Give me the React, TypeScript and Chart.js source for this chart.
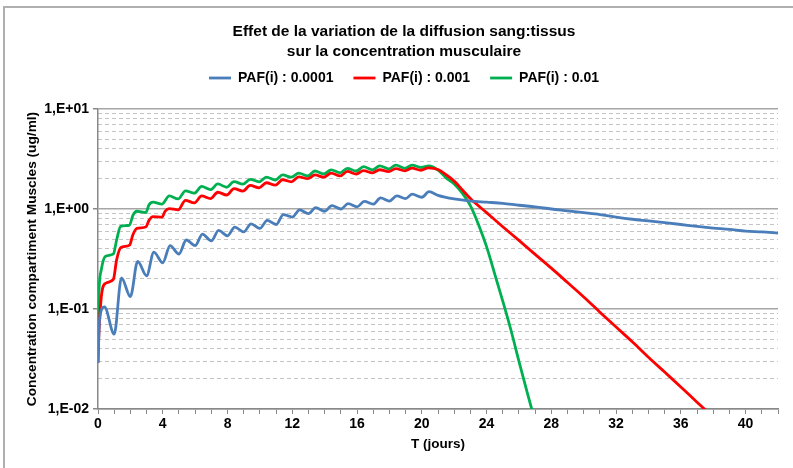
import React, { useEffect, useRef } from "react";
import { Chart, registerables } from "chart.js";

Chart.register(...registerables);

const TITLE_LINES = ["Effet de la variation de la diffusion sang:tissus", "sur la concentration musculaire"];
const SERIES_NAMES = ["PAF(i) : 0.0001", "PAF(i) : 0.001", "PAF(i) : 0.01"];
const SERIES_COLORS = ["#4a7ebb", "#ff0000", "#00b050"];
const X_TITLE = "T (jours)";
const Y_TITLE = "Concentration compartiment Muscles (ug/ml)";
const X_LABELED_TICKS = [0, 4, 8, 12, 16, 20, 24, 28, 32, 36, 40];
const Y_MAJOR_TICKS = [0.01, 0.1, 1, 10];
const Y_MAJOR_LABELS = ["1,E-02", "1,E-01", "1,E+00", "1,E+01"];
const Y_MINOR_MULTIPLIERS = [2, 3, 4, 5, 6, 7, 8, 9];

// PAF(i) : 0.0001 (blue)
const tBlue = [
  0, 0.1, 0.4, 1.0, 1.45, 2.0, 2.45, 3.0, 3.45, 4.0, 4.45, 5.0, 5.45, 6.0, 6.45, 7.0, 7.45,
  8.0, 8.45, 9.0, 9.45, 10.0, 10.45, 11.0, 11.45, 12.0, 12.45, 13.0, 13.45, 14.0, 14.45,
  15.0, 15.45, 16.0, 16.45, 17.0, 17.45, 18.0, 18.45, 19.0, 19.4, 20.0, 20.45,
  21, 22, 23, 24, 25, 26, 27, 28, 29, 30, 31, 32, 33, 34, 35, 36, 37, 38, 39, 40, 41, 42,
];
const cBlue = [
  0.029, 0.08, 0.105, 0.056, 0.205, 0.133, 0.3, 0.215, 0.37, 0.29, 0.43, 0.355, 0.49, 0.43, 0.56, 0.48, 0.61,
  0.54, 0.66, 0.59, 0.71, 0.64, 0.77, 0.7, 0.88, 0.83, 0.98, 0.9, 1.03, 0.95, 1.08,
  1.0, 1.13, 1.05, 1.19, 1.12, 1.29, 1.2, 1.35, 1.27, 1.41, 1.31, 1.49,
  1.37, 1.26, 1.2, 1.17, 1.14, 1.09, 1.05, 1.0, 0.96, 0.92, 0.88, 0.83, 0.79, 0.76, 0.73, 0.7, 0.67, 0.645, 0.625, 0.6, 0.59, 0.575,
];

// PAF(i) : 0.001 (red)
const tRed = [
  0, 0.03, 0.2, 0.45, 0.95, 1.15, 1.4, 1.95, 2.15, 2.4, 2.95, 3.15, 3.4, 3.95, 4.15, 4.4, 4.95,
  5.4, 5.95, 6.4, 6.95, 7.4, 7.95, 8.4, 8.95, 9.4, 9.95, 10.4, 10.95, 11.4, 11.95, 12.4, 12.95,
  13.4, 13.95, 14.4, 14.95, 15.4, 15.95, 16.4, 16.95, 17.4, 17.95, 18.4, 18.95, 19.4, 19.95, 20.4,
  21, 21.5, 22, 22.5, 23, 24, 25, 26, 27, 28, 29, 30, 31, 32, 33, 34, 35, 36, 37, 38,
];
const cRed = [
  0.029, 0.045, 0.13, 0.18, 0.198, 0.31, 0.41, 0.435, 0.55, 0.64, 0.66, 0.77, 0.84, 0.83, 0.95, 1.01, 0.98,
  1.22, 1.15, 1.35, 1.27, 1.47, 1.38, 1.6, 1.51, 1.72, 1.63, 1.83, 1.73, 1.96, 1.87, 2.1, 2.01,
  2.19, 2.08, 2.28, 2.14, 2.38, 2.24, 2.42, 2.3, 2.47, 2.37, 2.53, 2.41, 2.56, 2.44, 2.58,
  2.48, 2.2, 1.9, 1.56, 1.27, 0.92, 0.665, 0.485, 0.352, 0.256, 0.184, 0.132, 0.093, 0.066, 0.047, 0.033, 0.0234, 0.0166, 0.0117, 0.0083,
];

// PAF(i) : 0.01 (green)
const tGreen = [
  0, 0.03, 0.2, 0.45, 0.95, 1.15, 1.4, 1.95, 2.15, 2.4, 2.95, 3.15, 3.4, 3.95, 4.4, 4.95,
  5.4, 5.95, 6.4, 6.95, 7.4, 7.95, 8.4, 8.95, 9.4, 9.95, 10.4, 10.95, 11.4, 11.95, 12.4, 12.95,
  13.4, 13.95, 14.4, 14.95, 15.4, 15.95, 16.4, 16.95, 17.4, 17.95, 18.4, 18.95, 19.4, 19.95, 20.45,
  21, 21.5, 22, 22.5, 23, 23.5, 24, 24.5, 25, 25.5, 26, 26.5, 27,
];
const cGreen = [
  0.04, 0.11, 0.245, 0.335, 0.355, 0.49, 0.67, 0.69, 0.86, 0.95, 0.92, 1.1, 1.17, 1.12, 1.35, 1.26,
  1.52, 1.44, 1.68, 1.56, 1.78, 1.65, 1.88, 1.77, 1.98, 1.87, 2.08, 1.95, 2.19, 2.08, 2.28, 2.14,
  2.4, 2.24, 2.46, 2.3, 2.55, 2.4, 2.65, 2.46, 2.7, 2.52, 2.74, 2.55, 2.75, 2.6, 2.7,
  2.45, 2.05, 1.78, 1.44, 1.08, 0.7, 0.42, 0.225, 0.12, 0.062, 0.03, 0.0148, 0.0075,
];

const FONT = "'Liberation Sans', Arial, Helvetica, sans-serif";

const toPoints = (t: number[], c: number[]) => t.map((x, i) => ({ x, y: c[i] }));

const legendSpacing = {
  id: "legendSpacing",
  beforeInit(chart: any) {
    const legend = chart.legend;
    if (!legend) return;
    const origFit = legend.fit;
    legend.fit = function fit() {
      origFit.bind(legend)();
      this.height += 14;
    };
  },
};

export default function App() {
  const canvasRef = useRef<HTMLCanvasElement | null>(null);

  useEffect(() => {
    if (!canvasRef.current) return;
    const series = [
      toPoints(tBlue, cBlue),
      toPoints(tRed, cRed),
      toPoints(tGreen, cGreen),
    ];
    const chart = new Chart(canvasRef.current, {
      type: "line",
      data: {
        datasets: series.map((pts, i) => ({
          label: SERIES_NAMES[i],
          data: pts,
          borderColor: SERIES_COLORS[i],
          backgroundColor: SERIES_COLORS[i],
          borderWidth: 2.8,
          pointRadius: 0,
          pointStyle: "line",
          cubicInterpolationMode: "monotone" as const,
          fill: false,
        })),
      },
      plugins: [legendSpacing],
      options: {
        animation: false,
        responsive: false,
        devicePixelRatio: 1,
        layout: { padding: { top: 10, left: 16, right: 1, bottom: 0 } },
        plugins: {
          tooltip: { enabled: false },
          title: {
            display: true,
            text: TITLE_LINES,
            color: "#000",
            font: { family: FONT, size: 15.5, weight: "bold", lineHeight: 20 / 15.5 },
            padding: { top: 12, bottom: -11 },
          },
          legend: {
            display: true,
            position: "top",
            labels: {
              usePointStyle: true,
              pointStyle: "line",
              pointStyleWidth: 22,
              color: "#000",
              font: { family: FONT, size: 14, weight: "bold" },
              padding: 20,
            },
          },
        },
        scales: {
          x: {
            type: "linear",
            min: 0,
            max: 42,
            afterBuildTicks: (scale: any) => {
              const ticks = [];
              for (let v = 0; v <= 42; v += 1) ticks.push({ value: v });
              scale.ticks = ticks;
            },
            afterFit: (scale: any) => {
              scale.height = 59;
            },
            ticks: {
              autoSkip: false,
              maxRotation: 0,
              color: "#000",
              font: { family: FONT, size: 14, weight: "bold" },
              callback: (v: any) => (X_LABELED_TICKS.includes(Number(v)) ? String(v) : ""),
              padding: 2,
            },
            grid: {
              drawOnChartArea: false,
              drawTicks: true,
              tickLength: 5,
              tickColor: "#888888",
              tickWidth: 1,
            },
            border: { color: "#888888", width: 1.5 },
            title: {
              display: true,
              text: X_TITLE,
              color: "#000",
              font: { family: FONT, size: 13.5, weight: "bold" },
              padding: { top: 4, bottom: 16 },
            },
          },
          y: {
            type: "logarithmic",
            position: "left",
            min: 0.01,
            max: 10,
            afterBuildTicks: (scale: any) => {
              scale.ticks = Y_MAJOR_TICKS.map((v) => ({ value: v }));
            },
            afterFit: (scale: any) => {
              scale.width = 82;
            },
            ticks: {
              color: "#000",
              font: { family: FONT, size: 14, weight: "bold" },
              callback: (v: any) => {
                const i = Y_MAJOR_TICKS.findIndex((m) => Math.abs(m - Number(v)) < 1e-9);
                return i >= 0 ? Y_MAJOR_LABELS[i] : "";
              },
              padding: 4,
            },
            grid: {
              color: "#a6a6a6",
              lineWidth: 1.5,
              drawTicks: true,
              tickLength: 5,
              tickColor: "#888888",
            },
            border: { color: "#888888", width: 1.5 },
            title: {
              display: true,
              text: Y_TITLE,
              color: "#000",
              font: { family: FONT, size: 13.7, weight: "bold" },
              padding: { top: 8, bottom: 0 },
            },
          },
          y2: {
            type: "logarithmic",
            position: "right",
            min: 0.01,
            max: 10,
            afterBuildTicks: (scale: any) => {
              const ticks: { value: number }[] = [];
              for (let i = 0; i < Y_MAJOR_TICKS.length - 1; i++) {
                for (const m of Y_MINOR_MULTIPLIERS) ticks.push({ value: Y_MAJOR_TICKS[i] * m });
              }
              scale.ticks = ticks;
            },
            afterFit: (scale: any) => {
              scale.width = 14;
            },
            ticks: { display: false },
            grid: {
              color: "#c4c4c4",
              lineWidth: 1,
              drawTicks: false,
            },
            border: { display: false, dash: [4, 3] },
          },
        },
      },
    });
    return () => chart.destroy();
  }, []);

  return (
    <div style={{ position: "relative", width: 793, height: 468, overflow: "hidden", background: "#fff" }}>
      <style>{"body{margin:0}"}</style>
      <canvas ref={canvasRef} width={793} height={468} style={{ display: "block" }} />
      <div
        style={{
          position: "absolute",
          left: 3,
          top: 6,
          width: 900,
          height: 600,
          border: "2px solid #b0b0b0",
          pointerEvents: "none",
        }}
      />
    </div>
  );
}
